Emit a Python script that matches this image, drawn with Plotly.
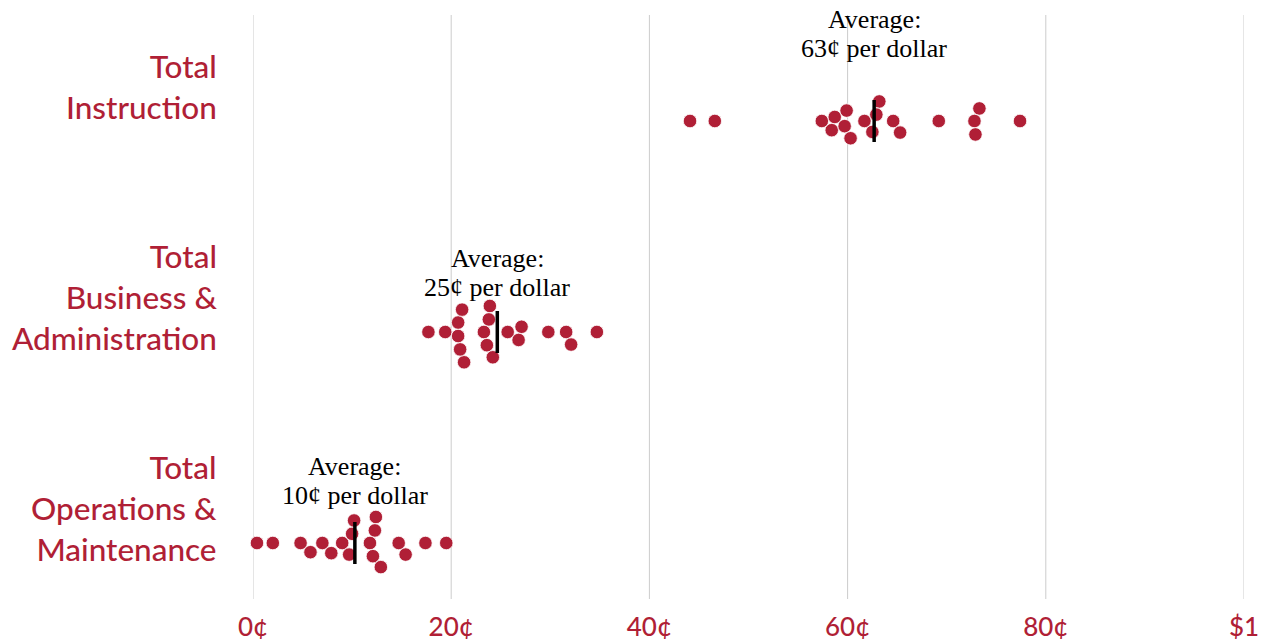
import numpy as np
import plotly.graph_objects as go

# ---------------- data (cents per dollar, one dot per district) ----------------
categories = ["Total<br>Instruction",
              "Total<br>Business &<br>Administration",
              "Total<br>Operations &<br>Maintenance"]

instruction = [44.1, 46.6, 57.4, 58.7, 59.9, 58.4, 59.7, 60.3, 61.7, 63.2,
               62.9, 62.5, 64.6, 65.3, 69.2, 73.3, 72.8, 72.9, 77.4]
business = [17.7, 19.4, 21.3, 20.9, 20.7, 20.7, 21.1, 23.9, 23.8, 23.3,
            23.6, 24.2, 25.7, 27.1, 26.8, 29.8, 31.6, 32.1, 34.7]
operations = [0.4, 2.0, 4.8, 5.8, 7.0, 7.9, 9.0, 10.0, 10.2, 9.7,
              12.4, 12.3, 11.8, 12.1, 12.9, 14.7, 15.4, 17.4, 19.5]

series = [instruction, business, operations]

tick_vals = [0, 20, 40, 60, 80, 100]
tick_text = ["0¢", "20¢", "40¢", "60¢", "80¢", "$1"]

# ---------------- layout / style constants ----------------
W, H = 1268, 641
M_L, M_R, M_T, M_B = 253, 24, 15, 42
RED = "#B01F36"
GRID = "#cccccc"
SANS = "Lato, 'Noto Sans', sans-serif"
SERIF = "'Liberation Serif', 'DejaVu Serif', serif"

plot_w = W - M_L - M_R
plot_h = H - M_T - M_B
px_per_unit = plot_w / 100.0

row_first = 121 - M_T          # px from plot top to first row centre
row_step = 211                 # px between rows
dot_d = 13.5                   # collision diameter (px)
avg_half = 21                  # half length of average tick (px)
label_up = 35                  # category label centre above row centre
note_up = [87, 59, 62]         # average note centre above row centre
note_gap = 14.5                # half spacing between note lines


def beeswarm(vals, d):
    """Greedy beeswarm: exact x, smallest vertical offset that avoids overlap."""
    xs = np.asarray(vals) * px_per_unit
    order = np.argsort(xs, kind="stable")
    placed = []
    ys = np.zeros(len(xs))
    for i in order:
        cands = [0.0]
        for (xj, yj) in placed:
            dx = abs(xs[i] - xj)
            if dx < d:
                h = np.sqrt(d * d - dx * dx)
                cands += [yj + h, yj - h]
        cands = sorted(cands, key=lambda c: (abs(c), -c))
        for c in cands:
            ok = all((xs[i] - xj) ** 2 + (c - yj) ** 2 >= d * d - 1e-6
                     for (xj, yj) in placed)
            if ok:
                ys[i] = c
                placed.append((xs[i], c))
                break
    return ys


fig = go.Figure()

# vertical gridlines at every tick (including both range ends)
for tv in tick_vals:
    fig.add_shape(type="line", xref="x", yref="paper", x0=tv, x1=tv, y0=0, y1=1,
                  line=dict(color=GRID, width=1), layer="below")

annotations = []
for k, (cat, vals) in enumerate(zip(categories, series)):
    centre = row_first + k * row_step          # in px from plot top
    offs = beeswarm(vals, dot_d)
    fig.add_trace(go.Scatter(
        x=vals, y=centre + offs, mode="markers", cliponaxis=False,
        marker=dict(size=13.5, color=RED, line=dict(color="white", width=0.8)),
        hoverinfo="x", showlegend=False))
    mean = float(np.mean(vals))
    fig.add_trace(go.Scatter(
        x=[mean, mean], y=[centre - avg_half, centre + avg_half], mode="lines",
        line=dict(color="black", width=3.5), hoverinfo="skip", showlegend=False))
    for j, line in enumerate(["Average:", f"{round(mean):.0f}¢ per dollar"]):
        annotations.append(dict(
            x=mean, y=centre - note_up[k] + (2 * j - 1) * note_gap,
            xref="x", yref="y", text=line,
            showarrow=False, xanchor="center", yanchor="middle", align="center",
            font=dict(family=SERIF, size=26, color="black")))
    annotations.append(dict(
        x=0, y=centre - label_up, xref="paper", yref="y", xshift=-34,
        text=cat, showarrow=False, xanchor="right", yanchor="middle",
        align="right", font=dict(family=SANS, size=31.5, color=RED, weight=500)))

fig.update_layout(
    width=W, height=H,
    margin=dict(l=M_L, r=M_R, t=M_T, b=M_B, autoexpand=False),
    paper_bgcolor="white", plot_bgcolor="white",
    annotations=annotations,
    xaxis=dict(range=[0, 100], tickvals=tick_vals, ticktext=tick_text,
               showgrid=False, zeroline=False,
               showline=False, ticks="", fixedrange=True, automargin=False,
               ticklabelstandoff=10,
               tickfont=dict(family=SANS, size=26, color=RED, weight=500)),
    yaxis=dict(range=[plot_h, 0], showgrid=False, zeroline=False,
               showticklabels=False, showline=False, fixedrange=True,
               automargin=False),
)

fig.write_html("out.html", config={"displayModeBar": False},
               post_script="document.body.style.margin='0';"
                           "document.body.style.overflow='hidden';")
